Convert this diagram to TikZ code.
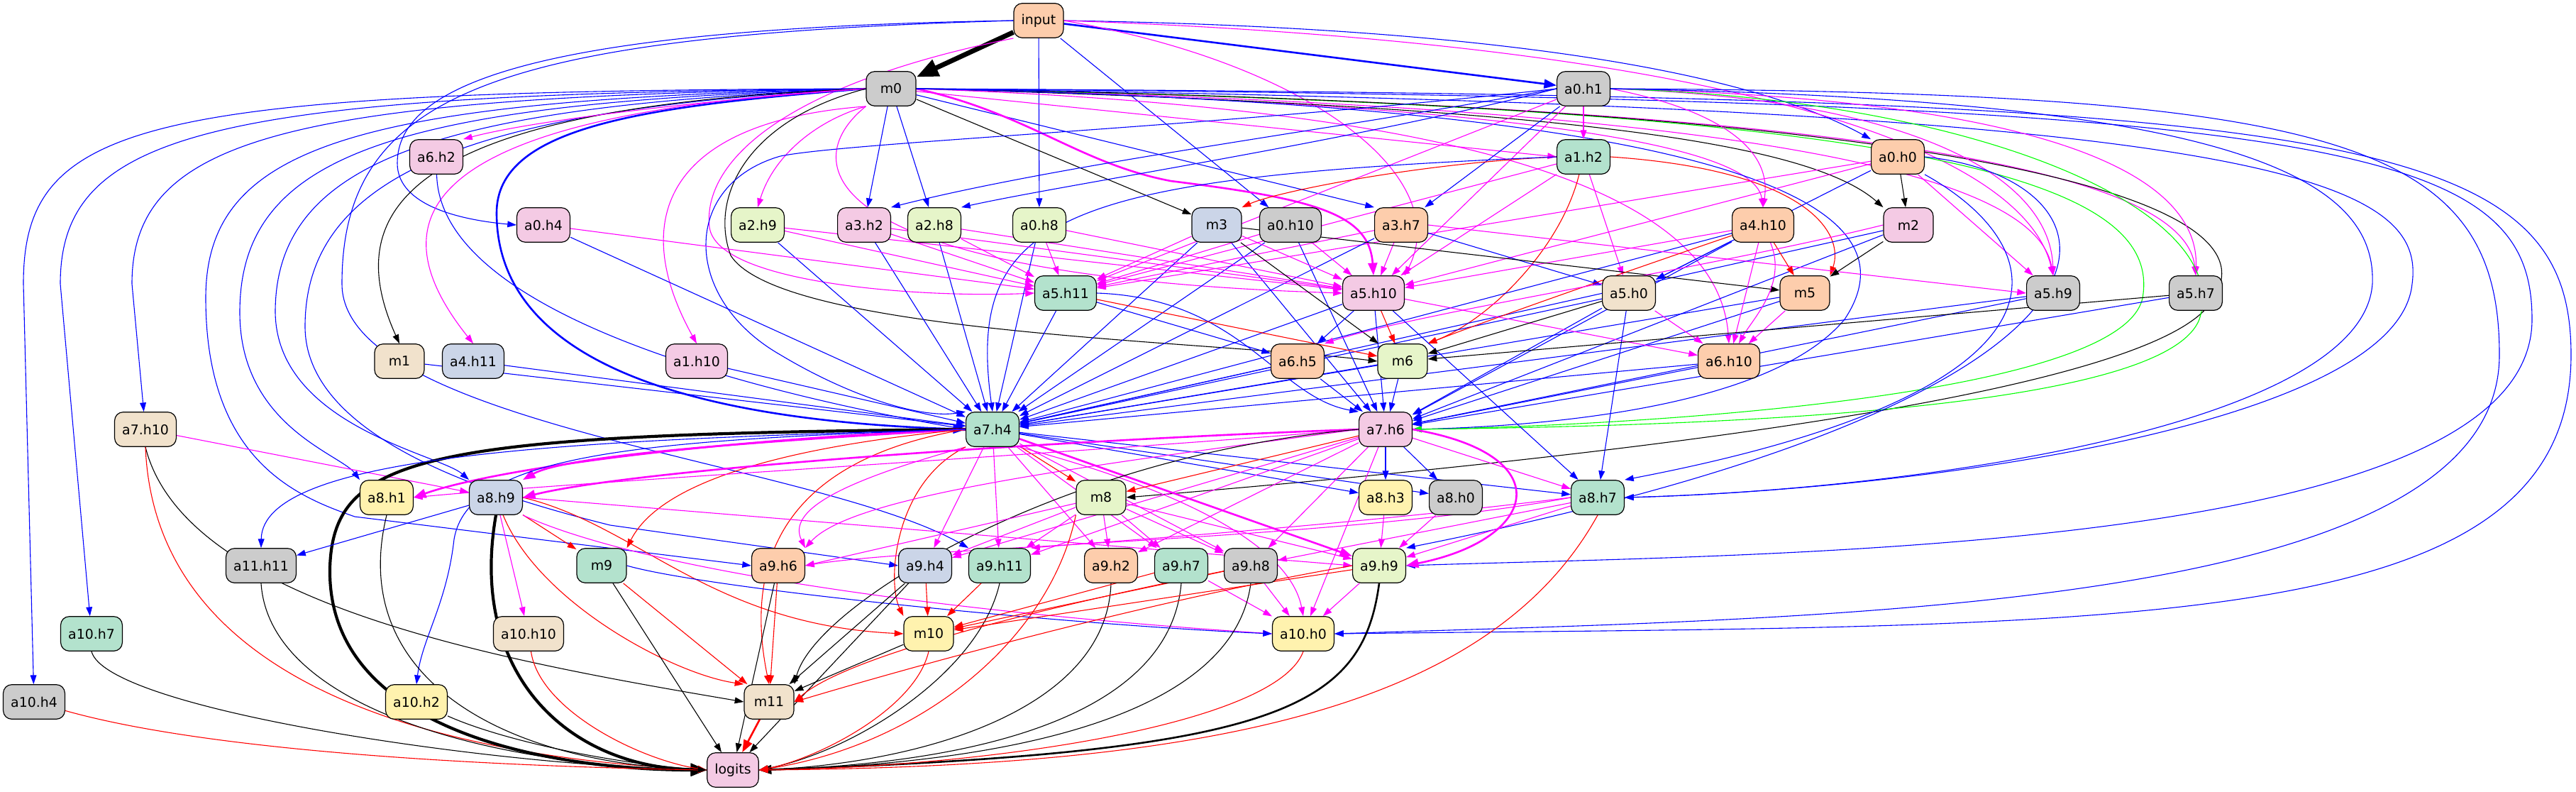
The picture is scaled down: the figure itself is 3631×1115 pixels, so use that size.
\documentclass[tikz,border=0pt]{standalone}
\usepackage{fontspec}
\setmainfont{DejaVu Sans}
\usetikzlibrary{arrows.meta}
\pgfdeclarelayer{back}
\pgfdeclarelayer{bg}
\pgfsetlayers{back,bg,main}
\definecolor{cmint}{HTML}{B3E2CD}
\definecolor{cpeach}{HTML}{FDCDAC}
\definecolor{cbluegray}{HTML}{CBD5E8}
\definecolor{cpink}{HTML}{F4CAE4}
\definecolor{clgreen}{HTML}{E6F5C9}
\definecolor{cyellow}{HTML}{FFF2AE}
\definecolor{cbeige}{HTML}{F1E2CC}
\definecolor{cgray}{HTML}{CCCCCC}
\definecolor{eblue}{HTML}{0000FF}
\definecolor{emag}{HTML}{FF00FF}
\definecolor{ered}{HTML}{FF0000}
\definecolor{egreen}{HTML}{00FF00}
\tikzset{
  nd/.style={draw=black, line width=0.6pt, rounded corners=6pt, minimum height=24.3pt,
    minimum width=35pt, inner xsep=5.3pt, inner ysep=0pt,
    font=\fontsize{9.45pt}{11pt}\selectfont},
  cg/.style={fill=cmint}, cp/.style={fill=cpeach}, cb/.style={fill=cbluegray},
  ck/.style={fill=cpink}, cl/.style={fill=clgreen}, cy/.style={fill=cyellow},
  ce/.style={fill=cbeige}, cx/.style={fill=cgray},
  ee/.style={-{Triangle[length=4.6pt 3.2,width=2.9pt 2.7]}, line width=0.55pt},
  eb/.style={ee, draw=eblue},
  em/.style={ee, draw=emag},
  er/.style={ee, draw=ered},
  ek/.style={ee, draw=black},
  eg/.style={ee, draw=egreen},
  lwa/.style={line width=1.3pt},
  lwb/.style={line width=2.1pt},
  lwc/.style={line width=3.4pt}
}
\begin{document}
\begin{tikzpicture}[x=0.5pt,y=-0.5pt]
\begin{pgfonlayer}{back}
\fill[white] (0,0) rectangle (3631,1115);
\end{pgfonlayer}
\useasboundingbox (0,0) rectangle (3631,1115);
% nodes
\node[nd,cp] (input) at (1464,29) {input};
\node[nd,cx] (m0) at (1256,125) {m0};
\node[nd,cx] (a0h1) at (2232,125) {a0.h1};
\node[nd,ck] (a6h2) at (615,221) {a6.h2};
\node[nd,cg] (a1h2) at (2232,221) {a1.h2};
\node[nd,cp] (a0h0) at (2675,221) {a0.h0};
\node[nd,ck] (a0h4) at (766,317) {a0.h4};
\node[nd,cl] (a2h9) at (1068,317) {a2.h9};
\node[nd,ck] (a3h2) at (1218,317) {a3.h2};
\node[nd,cl] (a2h8) at (1317,317) {a2.h8};
\node[nd,cl] (a0h8) at (1465,317) {a0.h8};
\node[nd,cb] (m3) at (1715,317) {m3};
\node[nd,cx] (a0h10) at (1819,317) {a0.h10};
\node[nd,cp] (a3h7) at (1975,317) {a3.h7};
\node[nd,cp] (a4h10) at (2485,317) {a4.h10};
\node[nd,ck] (m2) at (2690,317) {m2};
\node[nd,cg] (a5h11) at (1502,413) {a5.h11};
\node[nd,ck] (a5h10) at (1936,413) {a5.h10};
\node[nd,ce] (a5h0) at (2296,413) {a5.h0};
\node[nd,cp] (m5) at (2544,413) {m5};
\node[nd,cx] (a5h9) at (2894,413) {a5.h9};
\node[nd,cx] (a5h7) at (3095,413) {a5.h7};
\node[nd,ce] (m1) at (563,509) {m1};
\node[nd,cb] (a4h11) at (667,509) {a4.h11};
\node[nd,ck] (a1h10) at (982,509) {a1.h10};
\node[nd,cp] (a6h5) at (1829,509) {a6.h5};
\node[nd,cl] (m6) at (1977,509) {m6};
\node[nd,cp] (a6h10) at (2437,509) {a6.h10};
\node[nd,ce] (a7h10) at (205,605) {a7.h10};
\node[nd,cg] (a7h4) at (1399,605) {a7.h4};
\node[nd,ck] (a7h6) at (1953,605) {a7.h6};
\node[nd,cy] (a8h1) at (545,701) {a8.h1};
\node[nd,cb] (a8h9) at (699,701) {a8.h9};
\node[nd,cl] (m8) at (1552,701) {m8};
\node[nd,cy] (a8h3) at (1953,701) {a8.h3};
\node[nd,cx] (a8h0) at (2052,701) {a8.h0};
\node[nd,cg] (a8h7) at (2252,701) {a8.h7};
\node[nd,cx] (a11h11) at (368,797) {a11.h11};
\node[nd,cg] (m9) at (848,797) {m9};
\node[nd,cp] (a9h6) at (1097,797) {a9.h6};
\node[nd,cb] (a9h4) at (1304,797) {a9.h4};
\node[nd,cg] (a9h11) at (1409,797) {a9.h11};
\node[nd,cp] (a9h2) at (1566,797) {a9.h2};
\node[nd,cg] (a9h7) at (1665,797) {a9.h7};
\node[nd,cx] (a9h8) at (1763,797) {a9.h8};
\node[nd,cl] (a9h9) at (1944,797) {a9.h9};
\node[nd,cg] (a10h7) at (129,893) {a10.h7};
\node[nd,ce] (a10h10) at (745,893) {a10.h10};
\node[nd,cy] (m10) at (1309,893) {m10};
\node[nd,cy] (a10h0) at (1837,893) {a10.h0};
\node[nd,cx] (a10h4) at (48,989) {a10.h4};
\node[nd,cy] (a10h2) at (587,989) {a10.h2};
\node[nd,ce] (m11) at (1084,989) {m11};
\node[nd,ck] (logits) at (1033,1085) {logits};

\begin{pgfonlayer}{bg}
% ---- input
\draw[ek,lwc] (input) -- (m0);
\draw[eb,lwa] (input) -- (a0h1);
\draw[eb] (input.east) .. controls (2200,40) and (2500,120) .. (a0h0.north west);
\draw[eb] (input) -- (a0h8);
\draw[eb] (input) -- (a0h10);
\draw[eb] (input.west) .. controls (750,40) and (560,120) .. (560,230) .. controls (560,290) and (650,310) .. (a0h4.west);
\draw[eb] (input.west) .. controls (700,50) and (482,130) .. (482,400) .. controls (482,600) and (1150,650) .. (a9h11.north west);
\draw[em] (input.south west) .. controls (1100,120) and (990,230) .. (1000,320) .. controls (1010,400) and (1300,420) .. (a5h11.west);
\draw[em] (input.east) .. controls (1850,90) and (2050,250) .. (a5h10.north east);
\draw[em] (input.east) .. controls (2400,60) and (2850,200) .. (a5h9.north);
% ---- m0 left
\draw[eb] (m0.west) .. controls (200,128) and (33,170) .. (33,400) -- (a10h4);
\draw[eb] (m0.west) .. controls (300,132) and (85,185) .. (85,400) -- (a10h7);
\draw[eb] (m0.west) .. controls (400,136) and (186,195) .. (186,400) -- (a7h10);
\draw[eb] (m0.west) .. controls (500,140) and (290,205) .. (290,420) .. controls (290,650) and (420,700) .. (500,728) -- (a9h6.west);
\draw[eb] (m0.west) .. controls (560,144) and (338,215) .. (338,440) .. controls (338,600) and (480,640) .. (a8h1.north west);
\draw[eb] (m0.west) .. controls (620,148) and (388,225) .. (388,440) .. controls (390,600) and (620,640) .. (a8h9.north west);
\draw[eb] (m0.west) .. controls (680,152) and (430,240) .. (430,460) .. controls (430,620) and (700,700) .. (860,740) -- (a9h4.west);
\draw[eb,lwa] (m0.west) .. controls (900,150) and (700,180) .. (700,300) .. controls (700,480) and (900,590) .. (a7h4.west);
\draw[ek] (m0.west) .. controls (560,150) and (480,300) .. (m1.north);
\draw[em] (m0.west) .. controls (600,160) and (520,300) .. (a4h11.north);
\draw[em] (m0.south west) .. controls (950,170) and (880,300) .. (a1h10.north);
\draw[em] (m0.west) .. controls (1000,140) and (750,170) .. (a6h2.north east);
\draw[em] (m0.south west) .. controls (1150,170) and (1090,220) .. (a2h9.north);
\draw[eb] (m0) -- (a3h2);
\draw[eb] (m0) -- (a2h8);
\draw[ek] (m0) -- (m3);
\draw[eb] (m0) -- (a3h7.north west);
\draw[em] (m0) -- (a1h2.west);
\draw[em,lwa] (m0.east) .. controls (1450,160) and (1520,230) .. (1650,255) .. controls (1850,280) and (1930,300) .. (a5h10.north);
\draw[em] (m0.south west) .. controls (1120,230) and (1150,390) .. (a5h10.west);
\draw[ek] (m0.west) .. controls (1050,170) and (1000,280) .. (1030,360) .. controls (1100,470) and (1700,480) .. (m6.west);
\draw[em] (m0.east) .. controls (1900,140) and (2470,180) .. (a4h10.north);
\draw[ek] (m0.east) .. controls (2200,150) and (2550,200) .. (m2.north west);
\draw[em] (m0.east) .. controls (2000,150) and (2420,250) .. (a6h10.north);
\draw[em] (m0.east) .. controls (2500,150) and (2870,250) .. (a5h9.north);
\draw[em] (m0.east) .. controls (2700,150) and (3080,250) .. (a5h7.north);
\draw[eg] (m0.east) .. controls (2700,150) and (3050,250) .. (3020,420) .. controls (2990,560) and (2300,600) .. (a7h6.east);
\draw[ek] (m0.east) .. controls (2900,150) and (3200,300) .. (3120,420) .. controls (3050,560) and (2200,650) .. (m8.east);
\draw[eb] (m0.east) .. controls (2500,150) and (2700,300) .. (2600,450) .. controls (2500,570) and (2200,600) .. (a7h6.east);
\draw[eb] (m0.east) .. controls (3200,150) and (3420,250) .. (3400,400) .. controls (3380,600) and (2700,690) .. (a8h7.east);
\draw[eb] (m0.east) .. controls (3300,140) and (3569,200) .. (3569,450) .. controls (3569,780) and (2500,780) .. (a9h9.east);
\draw[eb] (m0.east) .. controls (3300,135) and (3624,180) .. (3624,500) .. controls (3624,900) and (3000,880) .. (a10h0.east);
% ---- a0.h1
\draw[em] (a0h1) -- (a1h2);
\draw[eb] (a0h1) -- (a3h7);
\draw[eb] (a0h1.west) .. controls (1900,180) and (1500,230) .. (a3h2.north east);
\draw[eb] (a0h1.west) .. controls (1900,200) and (1500,260) .. (a2h8.north east);
\draw[eb] (a0h1.west) .. controls (1700,180) and (1200,200) .. (1100,220) .. controls (960,260) and (960,420) .. (1100,500) .. controls (1200,560) and (1300,590) .. (a7h4.north west);
\draw[em] (a0h1) -- (a5h11);
\draw[em] (a0h1) -- (a5h10);
\draw[em] (a0h1.east) .. controls (2400,150) and (2500,200) .. (a4h10.north);
\draw[em] (a0h1.east) .. controls (2700,140) and (2890,250) .. (a5h9.north);
\draw[em] (a0h1.east) .. controls (2900,140) and (3100,250) .. (a5h7.north);
\draw[eg] (a0h1.east) .. controls (2800,140) and (3150,300) .. (3100,450) .. controls (3050,580) and (2400,600) .. (a7h6.east);
\draw[eb] (a0h1.east) .. controls (3150,140) and (3350,250) .. (3344,400) .. controls (3330,600) and (2700,690) .. (a8h7.east);
\draw[eb] (a0h1.east) .. controls (3300,130) and (3523,200) .. (3523,500) .. controls (3523,860) and (2600,870) .. (a10h0.east);
% ---- a1.h2
\draw[er] (a1h2.west) .. controls (2000,230) and (1800,270) .. (m3.north east);
\draw[em] (a1h2) -- (a5h11);
\draw[em] (a1h2) -- (a5h10);
\draw[em] (a1h2) -- (a5h0);
\draw[er] (a1h2) .. controls (2200,350) and (2100,450) .. (m6.north east);
\draw[er] (a1h2.east) .. controls (2550,240) and (2600,330) .. (m5.north east);
\draw[eb] (a1h2.west) .. controls (1500,250) and (1360,300) .. (a7h4.north);
% ---- a0.h0
\draw[ek] (a0h0) -- (m2);
\draw[em] (a0h0) -- (a5h9);
\draw[em] (a0h0) -- (a5h10);
\draw[em] (a0h0) -- (a5h11);
\draw[eb] (a0h0) -- (a5h0);
\draw[eb] (a0h0.east) .. controls (3000,250) and (3100,550) .. (a9h9.north east);
\draw[eb] (a0h0.south east) .. controls (2900,350) and (2950,550) .. (a8h7.north east);
% ---- row 3 to a7.h4
\draw[eb] (a6h2) .. controls (620,450) and (1100,560) .. (a7h4.west);
\draw[eb] (a0h4) -- (a7h4);
\draw[eb] (a2h9) -- (a7h4);
\draw[eb] (a3h2) -- (a7h4);
\draw[eb] (a2h8) -- (a7h4);
\draw[eb] (a0h8) -- (a7h4);
\draw[eb] (m3) -- (a7h4);
\draw[eb] (a0h10) -- (a7h4);
\draw[eb] (a3h7) -- (a7h4);
\draw[eb] (a5h11) -- (a7h4);
\draw[eb] (a5h10) -- (a7h4);
\draw[eb] (a6h5) -- (a7h4);
\draw[eb] (m6) -- (a7h4);
\draw[eb] (a4h10) -- (a7h4);
\draw[eb] (a5h0) -- (a7h4);
\draw[eb] (m5) -- (a7h4);
\draw[eb] (a6h10) -- (a7h4);
\draw[eb] (a5h9) -- (a7h4);
\draw[eb] (m2) -- (a7h4);
\draw[eb] (m1) -- (a7h4);
\draw[eb] (a4h11) -- (a7h4);
\draw[eb] (a1h10) -- (a7h4);
% ---- to a7.h6
\draw[eb] (m3) -- (a7h6);
\draw[eb] (a5h10) -- (a7h6);
\draw[eb] (a5h11.east) .. controls (1750,420) and (1800,560) .. (a7h6.north west);
\draw[eb] (a6h5) -- (a7h6);
\draw[eb] (m6) -- (a7h6);
\draw[eb] (a5h0) -- (a7h6);
\draw[eb] (m5) -- (a7h6);
\draw[eb] (a6h10) -- (a7h6);
\draw[eb] (a4h10) -- (a7h6);
\draw[eb] (a5h9) -- (a7h6);
\draw[eb] (a5h7) -- (a7h6);
\draw[eb] (m2) -- (a7h6);
\draw[eb] (a0h10) -- (a7h6);
% ---- into a5.h11 / a5.h10
\draw[em] (a0h4) -- (a5h11);
\draw[em] (a2h9) -- (a5h11);
\draw[em] (a2h9) -- (a5h10);
\draw[em] (a3h2) -- (a5h11);
\draw[em] (a3h2) -- (a5h10);
\draw[em] (a2h8) -- (a5h11);
\draw[em] (a2h8) -- (a5h10);
\draw[em] (a0h8) -- (a5h11);
\draw[em] (a0h8) -- (a5h10);
\draw[em] (m3) -- (a5h11);
\draw[em] (m3) -- (a5h10);
\draw[em] (a0h10) -- (a5h11);
\draw[em] (a0h10) -- (a5h10);
\draw[em] (a3h7) -- (a5h11);
\draw[em] (a3h7) -- (a5h10);
\draw[em] (a4h10) -- (a5h10);
\draw[em] (a3h7.east) -- (a5h9.west);
% ---- rows 3-5 misc
\draw[eb] (a3h7) -- (a5h0);
\draw[ek] (m3) -- (m6);
\draw[ek] (m3) -- (m5);
\draw[ek] (m2) -- (m5);
\draw[er] (a4h10) -- (m5);
\draw[eb] (a4h10) -- (a5h0);
\draw[em] (a4h10) -- (a6h10);
\draw[em] (a4h10) .. controls (2520,400) and (2470,450) .. (a6h10);
\draw[er] (a4h10) .. controls (2300,380) and (2100,450) .. (m6.north east);
\draw[em] (m2.west) .. controls (2400,380) and (2000,440) .. (a6h5.north east);
\draw[eb] (a5h11) -- (a6h5);
\draw[eb] (a5h10) -- (a6h5);
\draw[er] (a5h11) -- (m6);
\draw[er] (a5h10) -- (m6);
\draw[em] (a5h10) -- (a6h10);
\draw[eb] (a5h10) -- (a8h7);
\draw[ek] (a5h0) -- (m6);
\draw[em] (a5h0) -- (a6h10);
\draw[eb] (a5h0) -- (a8h7);
\draw[em] (m5) -- (a6h10);
\draw[ek] (a5h7) -- (m6);
% ---- row 6: a7.h10
\draw[em] (a7h10) -- (a8h9);
\draw[ek] (a7h10.south) .. controls (260,850) and (700,930) .. (m11.west);
\draw[er] (a7h10.south) .. controls (220,1000) and (700,1070) .. (logits.west);
% ---- a7.h4 out
\draw[ek,lwb] (a7h4.west) .. controls (600,612) and (470,640) .. (465,800) .. controls (460,1040) and (800,1085) .. (logits.west);
\draw[em,lwa] (a7h4.west) .. controls (1000,620) and (700,660) .. (a8h1.east);
\draw[em,lwa] (a7h4.west) .. controls (1100,620) and (800,640) .. (a8h9.north east);
\draw[er] (a7h4) -- (m8);
\draw[em] (a7h4) -- (a9h4);
\draw[em] (a7h4) -- (a9h11);
\draw[em] (a7h4) -- (a9h2);
\draw[em] (a7h4) -- (a9h7);
\draw[em] (a7h4) -- (a9h8);
\draw[em,lwa] (a7h4) -- (a9h9);
\draw[em] (a7h4.south west) .. controls (1180,680) and (1110,720) .. (a9h6.north east);
\draw[em] (a7h4.south east) .. controls (1700,700) and (1820,780) .. (a10h0.north);
\draw[er] (a7h4.south west) .. controls (1260,680) and (1250,820) .. (m10.north west);
\draw[er] (a7h4.west) .. controls (1150,640) and (1040,750) .. (m11.north);
\draw[er] (a7h4.west) .. controls (1100,630) and (930,680) .. (m9.north east);
\draw[eb] (a7h4.west) .. controls (800,620) and (370,640) .. (a11h11.north);
\draw[eb] (a7h4.west) .. controls (900,620) and (660,640) .. (640,760) .. controls (630,850) and (595,900) .. (a10h2.north);
\draw[eb] (a7h4) -- (a8h3);
\draw[eb] (a7h4) -- (a8h0);
\draw[eb] (a7h4) -- (a8h7);
% ---- a7.h6 out
\draw[er] (a7h6) -- (m8);
\draw[eb] (a7h6) -- (a8h3);
\draw[eb] (a7h6) -- (a8h0);
\draw[em] (a7h6) -- (a8h7);
\draw[em,lwa] (a7h6.east) .. controls (2200,640) and (2170,760) .. (a9h9.east);
\draw[em,lwa] (a7h6.west) .. controls (1500,620) and (900,660) .. (a8h9.east);
\draw[em] (a7h6.west) .. controls (1500,640) and (800,680) .. (a8h1.east);
\draw[em] (a7h6.west) .. controls (1500,660) and (1200,700) .. (a9h6.north east);
\draw[em] (a7h6) -- (a9h11);
\draw[em] (a7h6) -- (a9h2);
\draw[em] (a7h6) -- (a9h8);
\draw[em] (a7h6) -- (a10h0);
\draw[em] (a7h6) -- (a9h4);
\draw[ek] (a7h6.west) .. controls (1500,640) and (1150,850) .. (m11.north east);
% ---- row 7
\draw[ek] (a8h1.south) .. controls (490,950) and (700,1075) .. (logits.west);
\draw[ek,lwb] (a8h9.south) .. controls (660,950) and (800,1080) .. (logits.west);
\draw[eb] (a8h9) -- (a11h11);
\draw[er] (a8h9) -- (m9);
\draw[em] (a8h9) -- (a10h10);
\draw[er] (a8h9) .. controls (760,850) and (950,950) .. (m11.north west);
\draw[er] (a8h9.east) .. controls (900,740) and (1000,880) .. (m10.west);
\draw[em] (a8h9.east) -- (a9h9.west);
\draw[em] (a8h9.south east) .. controls (900,800) and (1300,860) .. (a10h0.west);
\draw[em] (m8) -- (a9h4);
\draw[em] (m8) -- (a9h11);
\draw[em] (m8) -- (a9h2);
\draw[em] (m8) -- (a9h7);
\draw[em] (m8) -- (a9h8);
\draw[em] (m8) -- (a9h9);
\draw[em] (m8) -- (a9h6.east);
\draw[er] (m8.south west) .. controls (1480,900) and (1300,1050) .. (logits.east);
\draw[em] (a8h3) -- (a9h9);
\draw[em] (a8h0) -- (a9h9);
\draw[em] (a8h7) -- (a9h9);
\draw[em] (a8h7) -- (a9h8);
\draw[em] (a8h7.west) .. controls (1900,740) and (1600,760) .. (a9h11.north east);
\draw[em] (a8h7.west) .. controls (1900,760) and (1300,770) .. (a9h6.east);
\draw[er] (a8h7.south) .. controls (2100,1000) and (1700,1080) .. (logits.east);
% ---- row 8
\draw[ek] (a11h11.south) .. controls (380,1000) and (700,1080) .. (logits.west);
\draw[ek] (m9) -- (logits);
\draw[er] (m9) -- (m11);
\draw[eb] (m9.east) .. controls (1000,830) and (1500,880) .. (a10h0.west);
\draw[er] (a9h6) -- (m11);
\draw[ek] (a9h6) -- (logits);
\draw[er] (a9h4) -- (m10);
\draw[ek] (a9h4) -- (logits);
\draw[ek] (a9h4) -- (m11);
\draw[er] (a9h11) -- (m10);
\draw[ek] (a9h11.south) .. controls (1380,950) and (1200,1060) .. (logits.east);
\draw[ek] (a9h2.south) .. controls (1560,1000) and (1300,1075) .. (logits.east);
\draw[er] (a9h7) -- (m10);
\draw[ek] (a9h7.south) .. controls (1650,1000) and (1400,1075) .. (logits.east);
\draw[em] (a9h7) -- (a10h0);
\draw[er] (a9h8) -- (m10);
\draw[ek] (a9h8.south) .. controls (1740,1000) and (1450,1075) .. (logits.east);
\draw[em] (a9h8) -- (a10h0);
\draw[er] (a9h8) .. controls (1500,850) and (1200,920) .. (m11.east);
\draw[er] (a9h9) -- (m10);
\draw[er] (a9h9.west) .. controls (1600,850) and (1250,950) .. (m11.east);
\draw[em] (a9h9) -- (a10h0);
\draw[ek,lwa] (a9h9.south) .. controls (1920,1000) and (1800,1060) .. (logits.east);
% ---- rows 9-10
\draw[ek] (a10h7.south) .. controls (150,1000) and (700,1080) .. (logits.west);
\draw[er] (a10h10) .. controls (760,1000) and (900,1070) .. (logits.west);
\draw[er] (m10.south) .. controls (1290,1000) and (1150,1070) .. (logits.east);
\draw[ek] (m10) -- (m11);
\draw[er] (a10h0.south) .. controls (1800,1020) and (1400,1080) .. (logits.east);
\draw[er] (a10h4) .. controls (300,1060) and (700,1080) .. (logits.west);
\draw[ek] (a10h2) .. controls (700,1040) and (850,1075) .. (logits.west);
\draw[er,lwa] (m11) -- (logits);
\end{pgfonlayer}
\end{tikzpicture}
\end{document}
